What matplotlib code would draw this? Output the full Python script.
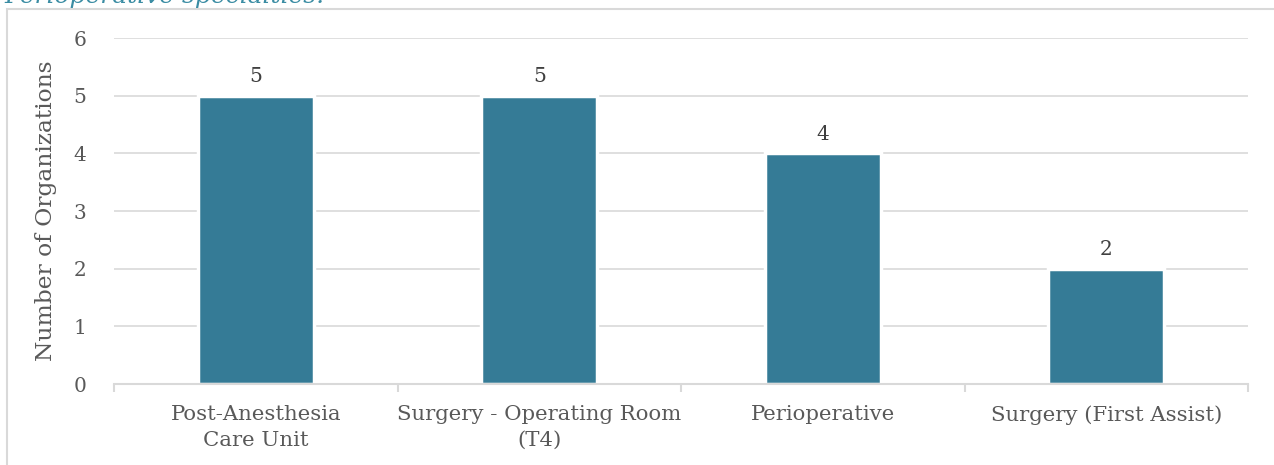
import matplotlib.pyplot as plt
from matplotlib.patches import Rectangle

categories = ["Post-Anesthesia\nCare Unit", "Surgery - Operating Room\n(T4)",
              "Perioperative", "Surgery (First Assist)"]
counts = [5, 5, 4, 2]
yticks = [0, 1, 2, 3, 4, 5, 6]

plt.rcParams['font.family'] = ['DejaVu Serif']

W, H = 1274, 465
fig = plt.figure(figsize=(W / 100, H / 100), dpi=100)
ax = fig.add_axes([114 / W, 1 - 384 / H, (1248 - 114) / W, (384 - 38) / H])

# outer frame of the chart, runs off the right and bottom edges
fig.patches.append(Rectangle((7 / W, -0.05), 1.2, 1 - 9 / H + 0.05,
                             transform=fig.transFigure, fill=False,
                             edgecolor='#d9d9d9', linewidth=1.5))

# caption line, mostly above the canvas
fig.text(4 / W, 1 - 3.5 / H, "Perioperative specialties.", style='italic',
         color='#3a8ca3', fontsize=18, va='baseline', ha='left')

x = range(len(categories))
bars = ax.bar(x, counts, width=0.41, color='#357b96', edgecolor='white',
              linewidth=2.5, zorder=3)
for b, v in zip(bars, counts):
    ax.text(b.get_x() + b.get_width() / 2, v + 0.17, str(v), ha='center',
            va='bottom', fontsize=14.5, color='#404040')

ax.set_xlim(-0.5, len(categories) - 0.5)
ax.set_ylim(0, 6)
ax.set_yticks(yticks)
ax.set_yticklabels([str(t) for t in yticks], fontsize=14.5, color='#595959')
ax.tick_params(axis='y', length=0, pad=20)
ax.yaxis.grid(True, color='#d9d9d9', linewidth=1.2, zorder=0)

# category boundaries carry the small ticks, labels sit at the centers
ax.set_xticks([i - 0.5 for i in range(len(categories) + 1)])
ax.set_xticklabels([])
ax.tick_params(axis='x', which='major', length=6, width=1.5, color='#d9d9d9')
ax.set_xticks(list(x), minor=True)
ax.set_xticklabels(categories, minor=True, fontsize=15.3, color='#595959',
                   linespacing=1.45)
ax.tick_params(axis='x', which='minor', length=0, pad=15)

for s in ['top', 'right', 'left']:
    ax.spines[s].set_visible(False)
ax.spines['bottom'].set_color('#d9d9d9')
ax.spines['bottom'].set_linewidth(1.5)
ax.spines['bottom'].set_zorder(4)

ax.set_ylabel("Number of Organizations", fontsize=16.8, color='#595959',
              labelpad=12)

fig.savefig("out.png", dpi=100)
